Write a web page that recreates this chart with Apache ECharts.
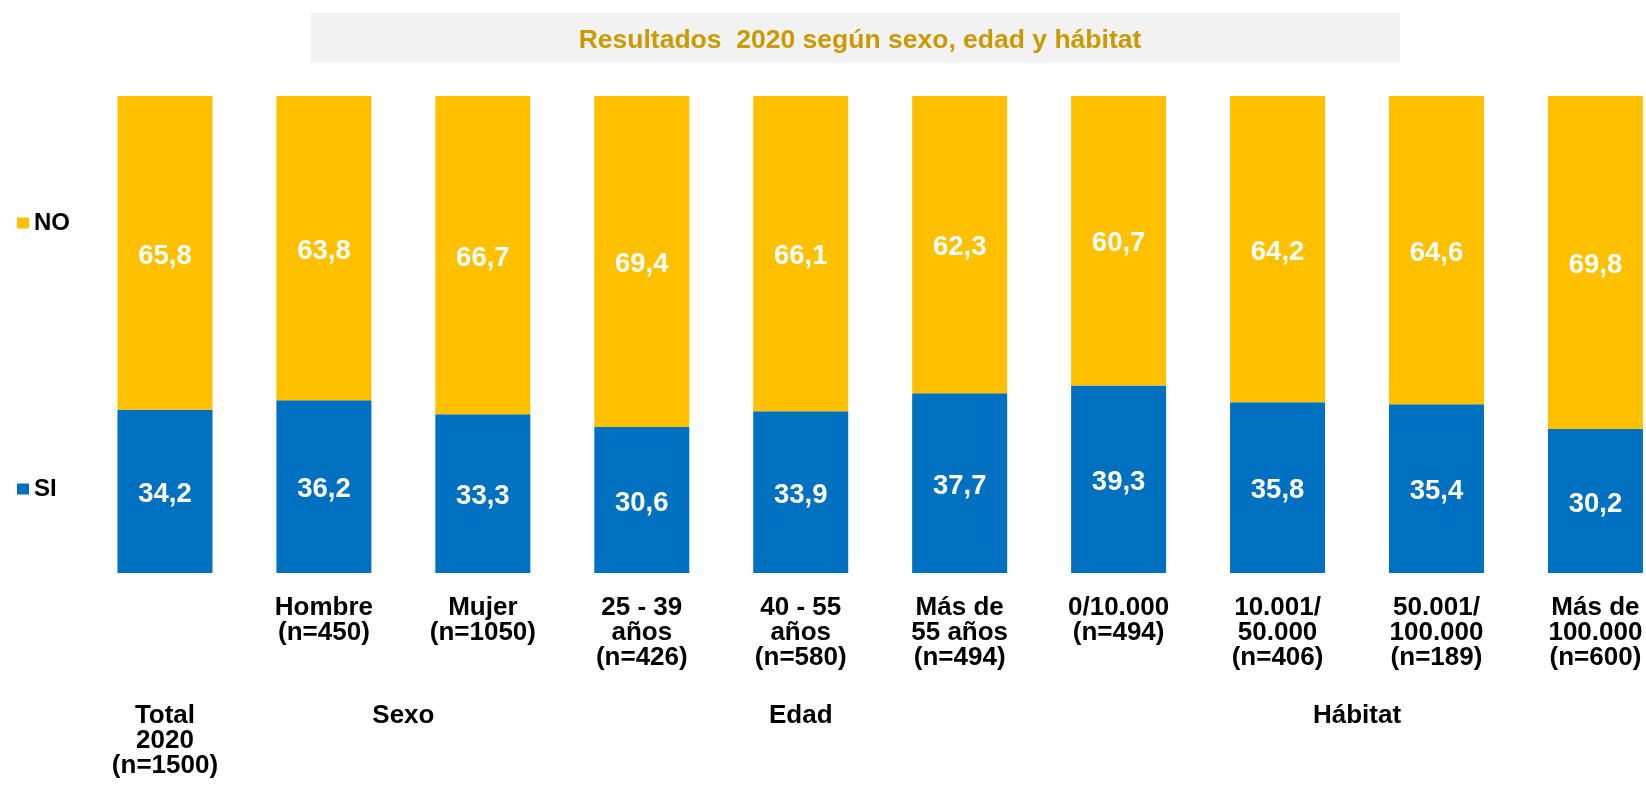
<!DOCTYPE html>
<html>
<head>
<meta charset="utf-8">
<script src="https://cdn.jsdelivr.net/npm/echarts@6/dist/echarts.min.js"></script>
<style>
  html, body { margin: 0; padding: 0; background: #fff; }
  #main { width: 1646px; height: 787px; }
</style>
</head>
<body>
<div id="main"></div>
<script>
// datos del grafico
var categorias = ['', 'Hombre\n(n=450)', 'Mujer\n(n=1050)', '25 - 39\naños\n(n=426)', '40 - 55\naños\n(n=580)',
  'Más de\n55 años\n(n=494)', '0/10.000\n(n=494)', '10.001/\n50.000\n(n=406)', '50.001/\n100.000\n(n=189)', 'Más de\n100.000\n(n=600)'];
var valoresSi = [34.2, 36.2, 33.3, 30.6, 33.9, 37.7, 39.3, 35.8, 35.4, 30.2];
var valoresNo = [65.8, 63.8, 66.7, 69.4, 66.1, 62.3, 60.7, 64.2, 64.6, 69.8];
// grupos: nombre y centro (indice de categoria)
var grupos = ['Total\n2020\n(n=1500)', 'Sexo', 'Edad', 'Hábitat'];
var gruposCentro = [0, 1.5, 4, 7.5];

var fuente = "'Liberation Sans', Arial, sans-serif";
var chart = echarts.init(document.getElementById('main'));

function etiqueta(p) {
  return p.value.toFixed(1).replace('.', ',');
}

function etiquetaGrupo(v) {
  for (var i = 0; i < gruposCentro.length; i++) {
    if (Math.abs(gruposCentro[i] + 0.5 - v) < 0.01) {
      return grupos[i];
    }
  }
  return '';
}

var estiloValor = {
  show: true,
  position: 'inside',
  offset: [0, 3],
  color: '#fff',
  fontFamily: fuente,
  fontSize: 27.5,
  fontWeight: 'bold',
  formatter: etiqueta
};

var option = {
  animation: false,
  title: {
    text: 'Resultados  2020 según sexo, edad y hábitat',
    left: 855,
    top: 22,
    textAlign: 'center',
    textStyle: { color: '#CC9900', fontFamily: fuente, fontSize: 26.5, fontWeight: 'bold' }
  },
  graphic: [{
    type: 'rect',
    z: -10,
    shape: { x: 311, y: 13, width: 1089, height: 50 },
    style: { fill: '#f2f2f2' }
  }],
  legend: {
    data: ['NO', 'SI'],
    orient: 'vertical',
    left: 17,
    top: 211,
    padding: 0,
    itemGap: 242,
    icon: 'rect',
    itemWidth: 12,
    itemHeight: 11,
    textStyle: { color: '#000', fontFamily: fuente, fontSize: 24, fontWeight: 'bold', lineHeight: 24 }
  },
  grid: { left: 85.5, top: 96, width: 1589.4, height: 477, outerBoundsMode: 'none', containLabel: false },
  xAxis: [{
    type: 'category',
    data: categorias,
    axisLine: { show: false },
    axisTick: { show: false },
    axisLabel: {
      interval: 0,
      margin: 22,
      color: '#000',
      fontFamily: fuente,
      fontSize: 26,
      fontWeight: 'bold',
      lineHeight: 25.2
    }
  }, {
    type: 'value',
    min: 0,
    max: 10,
    interval: 0.5,
    position: 'bottom',
    offset: 108,
    axisLine: { show: false },
    axisTick: { show: false },
    splitLine: { show: false },
    axisLabel: {
      margin: 22,
      color: '#000',
      fontFamily: fuente,
      fontSize: 26,
      fontWeight: 'bold',
      lineHeight: 25.2,
      showMinLabel: true,
      showMaxLabel: true,
      formatter: etiquetaGrupo
    }
  }],
  yAxis: {
    type: 'value',
    min: 0,
    max: 100,
    show: false
  },
  series: [{
    name: 'SI',
    type: 'bar',
    stack: 'total',
    barWidth: 95,
    data: valoresSi,
    itemStyle: { color: '#0070C0' },
    label: estiloValor
  }, {
    name: 'NO',
    type: 'bar',
    stack: 'total',
    barWidth: 95,
    data: valoresNo,
    itemStyle: { color: '#FFC000' },
    label: estiloValor
  }]
};

chart.setOption(option);
</script>
</body>
</html>
